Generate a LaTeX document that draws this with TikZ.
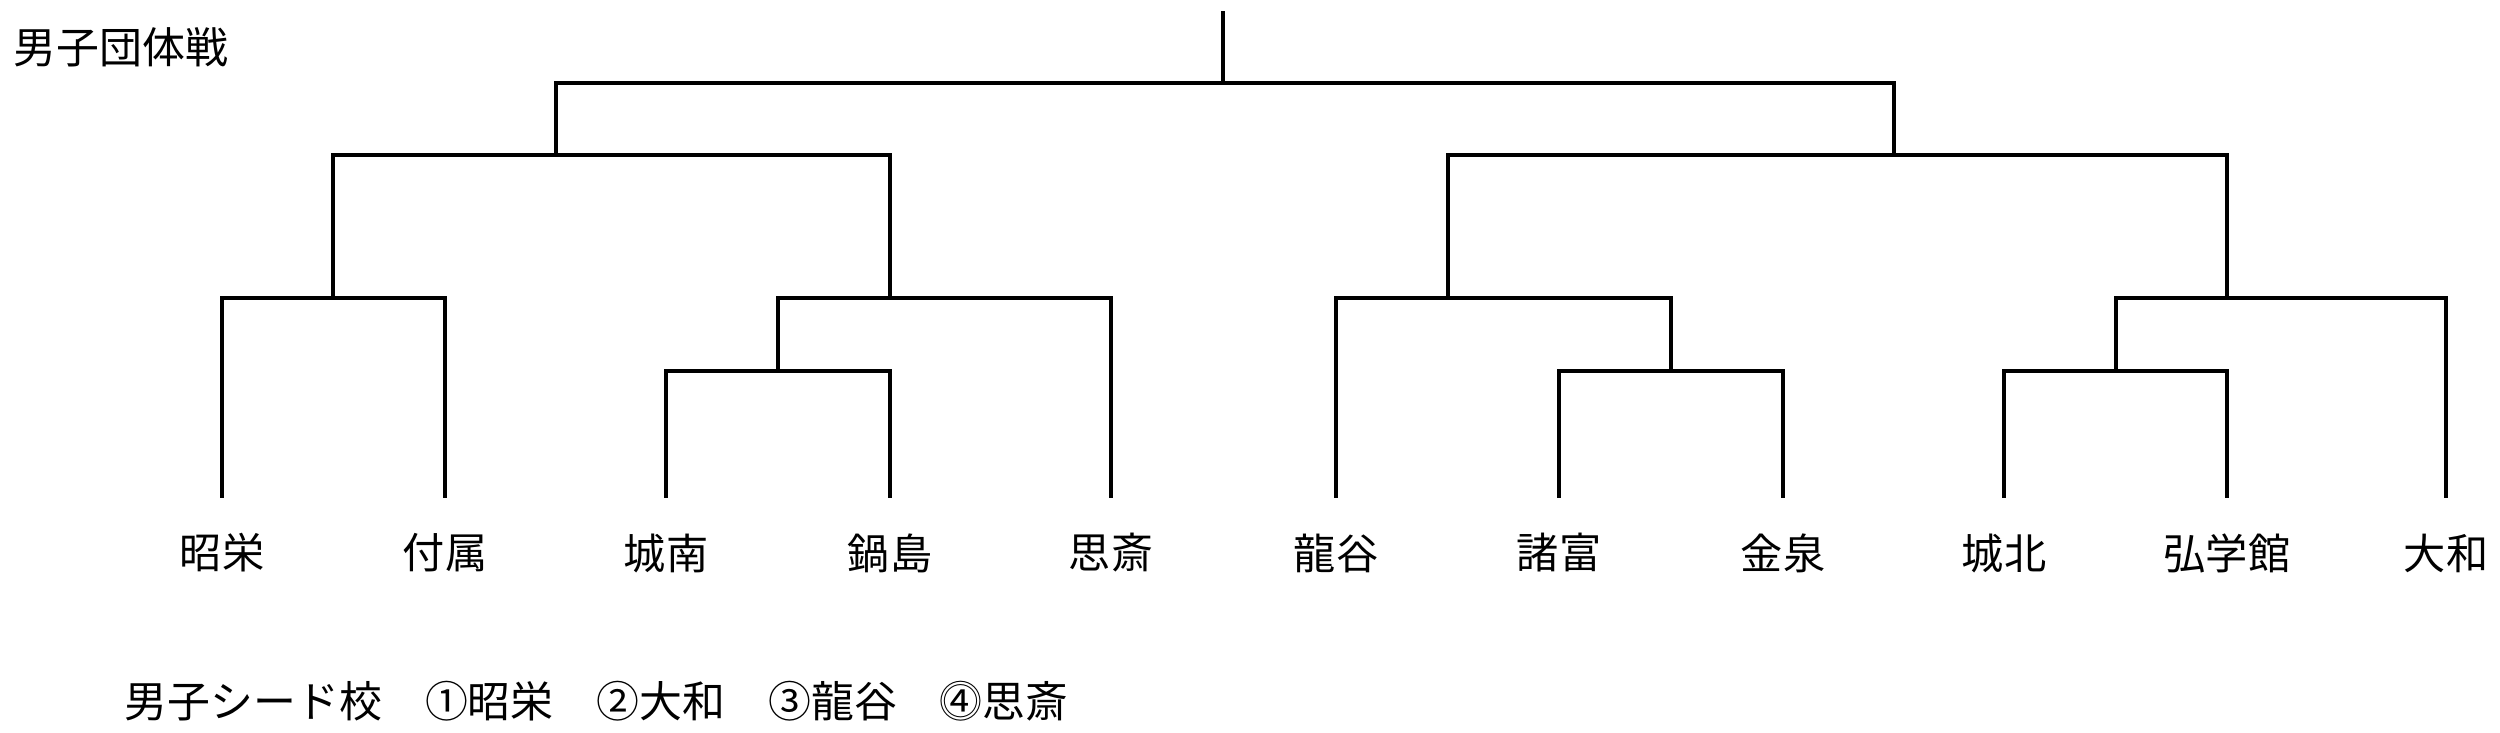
\documentclass[tikz,border=0pt]{standalone}
\usepackage{fontspec}
\setmainfont{Noto Sans CJK JP}
\usetikzlibrary{positioning}

\begin{document}
\begin{tikzpicture}[
  x=0.01cm, y=-0.01cm,
  team/.style={inner sep=0pt, minimum height=1.12cm,
    font=\fontsize{12}{14}\selectfont},
  caption/.style={anchor=west, inner sep=0pt,
    font=\fontsize{12.2}{14}\selectfont},
  wire/.style={line width=1pt, line cap=rect},
]
\useasboundingbox (0,0) rectangle (2500,732);
\node[caption] (title) at (13,47) {男子団体戦};
% teams
\node[team] (shoei) at (222,553) {昭栄};
\node[team] (fuzoku) at (445,553) {付属};
\node[team] (jonan) at (666,553) {城南};
\node[team] (nabeshima) at (890,553) {鍋島};
\node[team] (shisai) at (1111,553) {思斎};
\node[team] (ryukoku) at (1336,553) {龍谷};
\node[team] (morodomi) at (1559,553) {諸富};
\node[team] (kinsen) at (1783,553) {金泉};
\node[team] (johoku) at (2004,553) {城北};
\node[team] (kogakukan) at (2227,553) {弘学館};
\node[team] (yamato) at (2446,553) {大和};
% junctions
\coordinate (r1a) at (778,371);
\coordinate (r1b) at (1671,371);
\coordinate (r1c) at (2116,371);
\coordinate (r2a) at (333,298);
\coordinate (r2b) at (890,298);
\coordinate (r2c) at (1448,298);
\coordinate (r2d) at (2227,298);
\coordinate (sfl) at (556,155);
\coordinate (sfr) at (1894,155);
\coordinate (fin) at (1223,83);
\coordinate (top) at (1223,13);
\draw[wire] (jonan.north) |- (r1a) -| (nabeshima.north);
\draw[wire] (morodomi.north) |- (r1b) -| (kinsen.north);
\draw[wire] (johoku.north) |- (r1c) -| (kogakukan.north);
\draw[wire] (shoei.north) |- (r2a) -| (fuzoku.north);
\draw[wire] (r1a) |- (r2b) -| (shisai.north);
\draw[wire] (ryukoku.north) |- (r2c) -| (r1b);
\draw[wire] (r1c) |- (r2d) -| (yamato.north);
\draw[wire] (r2a) |- (sfl) -| (r2b);
\draw[wire] (r2c) |- (sfr) -| (r2d);
\draw[wire] (sfl) |- (fin) -| (sfr);
\draw[wire] (fin) -- (top);
% seeds
\node[caption] (seeds) at (124,701)
  {男子シード校　①昭栄　②大和　③龍谷　⓸思斎};
\end{tikzpicture}
\end{document}
